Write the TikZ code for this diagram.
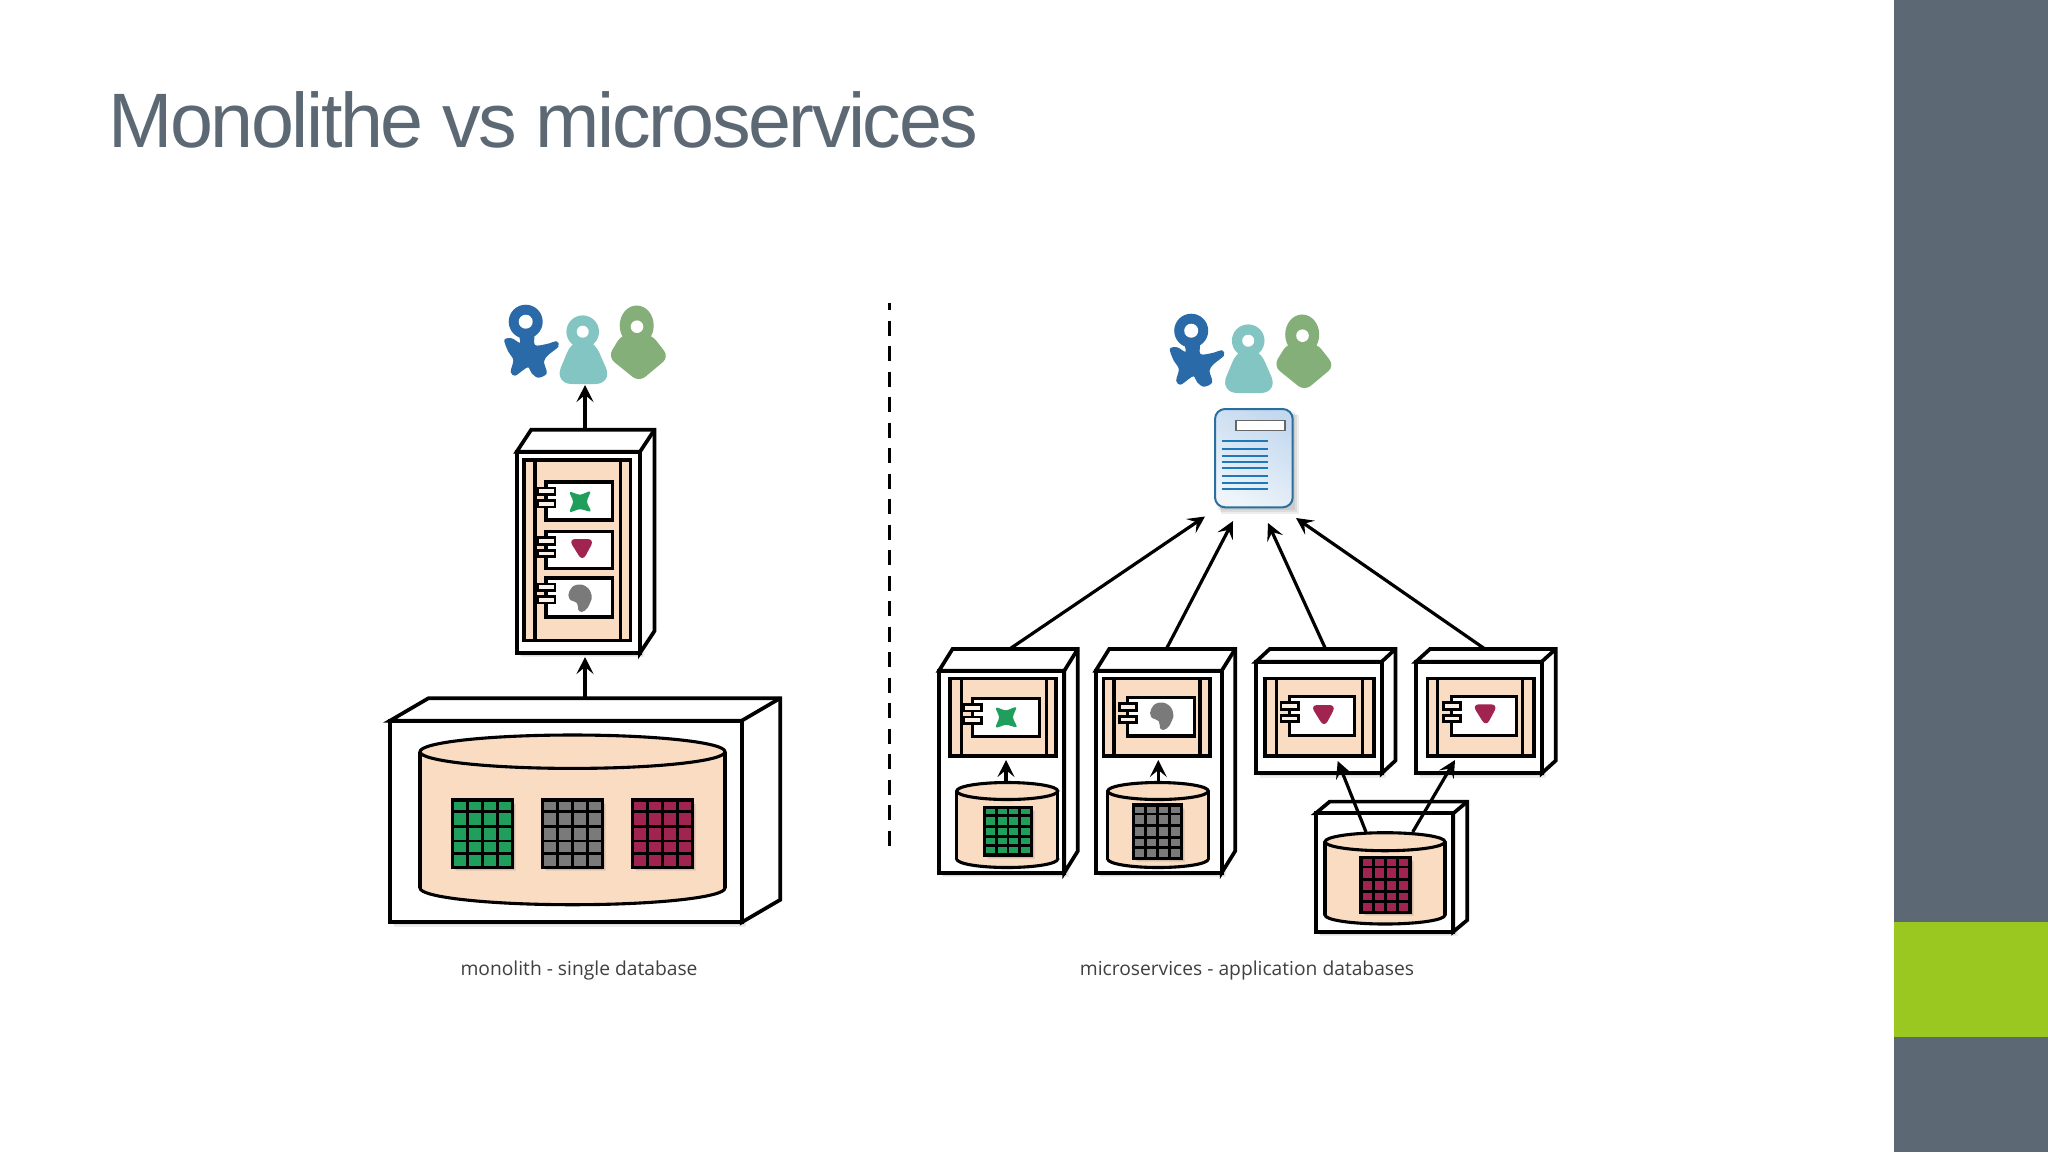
\documentclass[tikz,border=0pt]{standalone}
\usepackage{fontspec}
\setmainfont{Liberation Sans}
\newfontfamily\labfont{Open Sans}
\newfontfamily\titlefont[LetterSpace=-3.2]{Liberation Sans}
\usetikzlibrary{arrows.meta}
\definecolor{slate}{HTML}{5C6873}
\definecolor{lime}{HTML}{9AC820}
\definecolor{peach}{HTML}{FADCC3}
\definecolor{gridgreen}{HTML}{1F9E5C}
\definecolor{gridgrey}{HTML}{7A7A7A}
\definecolor{gridred}{HTML}{A02350}
\definecolor{pblue}{HTML}{2A6AA8}
\definecolor{pteal}{HTML}{83C5C2}
\definecolor{pgreen}{HTML}{85AF78}
\definecolor{doca}{HTML}{C4D9EF}
\definecolor{docb}{HTML}{EEF4FA}
\definecolor{docline}{HTML}{1F78B8}
\definecolor{docedge}{HTML}{2A6F9E}
\tikzset{
  boxline/.style={line width=1.85pt,draw=black,line join=miter},
  thin box/.style={line width=1.55pt,draw=black,line join=miter},
  conn/.style={line width=1.6pt,draw=black,-{Stealth[length=8.5pt,width=8.5pt,inset=3.5pt]}},
  frontface/.style={boxline,fill=white,rectangle,inner sep=0pt,outer sep=0pt},
  softshade/.style={fill=black,fill opacity=0.07,draw=none},
  caption/.style={font=\labfont\fontsize{9.62}{12}\selectfont,text=black!75,anchor=base,inner sep=0pt}
}
% soft shadow: #1-#4 rectangle, #5 offset
\newcommand\softrect[5]{%
  \fill[softshade] (#1+#5,#2+#5) rectangle (#3+#5,#4+#5);
  \fill[softshade] (#1+.6*#5,#2+.6*#5) rectangle (#3+.6*#5,#4+.6*#5);
  \fill[softshade] (#1+1.4*#5,#2+1.4*#5) rectangle (#3+1.4*#5,#4+1.4*#5);
}
% cube: name, x1,y1,x2,y2 of the front face, dx, dy of the depth
\newcommand\cube[7]{%
  \softrect{#2}{#3}{#4}{#5}{3}
  \draw[boxline,fill=white] (#2,#3) -- (#2+#6,#3-#7) -- (#4+#6,#3-#7) -- (#4+#6,#5-#7) -- (#4,#5) -- (#4,#3) -- cycle;
  \draw[boxline] (#4,#3) -- (#4+#6,#3-#7);
  \pgfmathsetmacro\cw{(#4-#2)*0.5}
  \pgfmathsetmacro\ch{(#5-#3)*0.5}
  \node[frontface,minimum width=\cw pt,minimum height=\ch pt] (#1) at ({(#2+#4)/2},{(#3+#5)/2}) {};
}
% peach holder: x1,y1,x2,y2, left bar, right bar
\newcommand\holder[6]{%
  \draw[thin box,fill=peach] (#1,#2) rectangle (#3,#4);
  \draw[thin box] (#5,#2) -- (#5,#4) (#6,#2) -- (#6,#4);
}
% component: x1,y1,x2,y2
\newcommand\comp[5]{%
  \draw[thin box,fill=white] (#1,#2) rectangle (#3,#4);
  \draw[line width=1.3pt,fill=peach!40!white] (#1-8.5,#2+6) rectangle (#1+9,#2+12.5);
  \draw[line width=1.3pt,fill=peach!40!white] (#1-8.5,#2+18.5) rectangle (#1+9,#2+25);
}
\newcommand\iconX[2]{%
  \fill[gridgreen,shift={(#1,#2)}] plot[smooth cycle,tension=.6] coordinates
   {(-10,-9.5) (0,-7) (10,-10) (7,0) (10.5,9.5) (0,7.5) (-10,10) (-7,0)};}
\newcommand\iconV[2]{%
  \fill[gridred,shift={(#1,#2)},rounded corners=3.5] (-13,-10) -- (13,-10) -- (1,12.5) -- cycle;}
\newcommand\iconB[2]{%
  \fill[gridgrey,shift={(#1,#2)}] plot[smooth cycle,tension=.8] coordinates
   {(-10.5,-7) (-4,-13) (6,-11.5) (11.5,-3) (10,5) (5,12.5) (-1,13) (-3,5) (-10.5,1)};}
% cylinder: name, x1, x2, top centre y, ry, side bottom y
\newcommand\cyl[6]{%
  \pgfmathsetmacro\cxa{(#3-#2)/2}
  \draw[thin box,fill=peach] ({(#2+#3)/2},#6) ellipse[x radius=\cxa,y radius=#5];
  \fill[peach] (#2,#4) rectangle (#3,#6);
  \draw[thin box] (#2,#4) -- (#2,#6) (#3,#4) -- (#3,#6);
  \coordinate (#1) at ({(#2+#3)/2},#4);
  \draw[thin box,fill=peach] (#1) ellipse[x radius=\cxa,y radius=#5];
}
% data grid: x1,y1,x2,y2,colour
\newcommand\datagrid[5]{%
  \softrect{#1}{#2}{#3}{#4}{2.5}
  \fill[#5] (#1,#2) rectangle (#3,#4);
  \foreach \f in {.25,.5,.75}
    \draw[line width=1.4pt] ({#1+\f*(#3-#1)},#2) -- ({#1+\f*(#3-#1)},#4);
  \foreach \f in {.17,.39,.61,.8}
    \draw[line width=1.4pt] (#1,{#2+\f*(#4-#2)}) -- (#3,{#2+\f*(#4-#2)});
  \draw[line width=1.6pt] (#1,#2) rectangle (#3,#4);
}
% the three users
\newcommand\users[2]{%
  \begin{scope}[shift={(#1,#2)}]
    \fill[pblue] plot[smooth cycle,tension=.55] coordinates
      {(504.3,340) (511.7,338.3) (520,342.7) (520,334) (533.3,334) (535,345) (546.7,344) (556.7,341.3) (558.3,346.7) (548.3,355) (544,361.7) (546.7,373.3) (538.3,377.7) (531.7,373.3) (528.3,367.3) (523.3,370) (515,375.7) (510.7,371.7) (513.3,360) (508.3,351.7)};
    \fill[pblue] (525.7,321.7) circle[radius=17];
    \fill[white] (525.7,321.7) circle[radius=7];
    \fill[pteal,rounded corners=9] (574,336) -- (554,384) -- (613,384) -- (592,336) -- cycle;
    \fill[pteal] (582.7,331.7) circle[radius=16.3];
    \fill[white] (582.7,331.7) circle[radius=6];
    \fill[pgreen,rounded corners=4] (622,334) -- (608,357) -- (639,382) -- (669,357) -- (651,334) -- cycle;
    \fill[pgreen] (636.7,325.5) ellipse[x radius=17,y radius=20];
    \fill[white] (637,326.7) circle[radius=6.3];
  \end{scope}
}
\begin{document}
\begin{tikzpicture}[x=0.5pt,y=-0.5pt]
\useasboundingbox (0,0) rectangle (2048,1152);
\fill[white] (0,0) rectangle (2048,1152);
\fill[slate] (1894,0) rectangle (2048,1152);
\fill[lime] (1894,921.7) rectangle (2048,1036.7);
\node[anchor=base west,inner sep=0pt,text=slate,font=\titlefont\fontsize{38.6}{48}\selectfont] (title) at (108,147.6) {Monolithe vs microservices};

% ---- monolith ----
\users{0}{0}
\cube{app}{516.7}{451.7}{640}{653}{14.5}{22}
\holder{524}{460}{630.7}{640.7}{535}{620.7}
\comp{546}{482}{612.7}{520}{}
\comp{546}{531.7}{612.7}{568.7}{}
\comp{546}{578}{612.7}{617}{}
\iconX{580}{501.7}
\iconV{581.5}{549}
\iconB{580}{598}

\cube{dbbox}{390}{720.7}{741.7}{922.3}{38.5}{22.5}
\cyl{bigdb}{420}{725}{751.7}{16.7}{888}
\datagrid{452.7}{800}{512.7}{867.3}{gridgreen}
\datagrid{542.7}{800}{602.3}{867.3}{gridgrey}
\datagrid{632.3}{800}{692.3}{867.3}{gridred}

\node[caption] (capleft) at (579,975) {monolith - single database};

% ---- separator ----
\coordinate (septop) at (889.7,303);
\coordinate (sepbot) at (889.7,851);
\draw[line width=1.5pt,dash pattern=on 7.5pt off 5.25pt,dash phase=4pt] (septop) -- (sepbot);

% ---- microservices ----
\users{665.5}{9}
\softrect{1215}{409}{1292.7}{507.3}{4.5}
\node[rectangle,rounded corners=5pt,draw=docedge,line width=1pt,left color=doca,right color=docb,shading angle=-30,inner sep=0pt,outer sep=0pt,minimum width=38.85pt,minimum height=49.15pt] (doc) at (1253.85,458.15) {};
\draw[line width=0.8pt,draw=black!60,fill=white] (1236,420.3) rectangle (1284.7,430.3);
\foreach \yy in {441.3,449.3,455.7,462,468.3,476.3,482.7,489.3}
  \draw[line width=0.9pt,docline] (1221.7,\yy) -- (1267.7,\yy);

% service 1
\cube{svca}{939}{670.7}{1064.3}{872.7}{13.5}{21.7}
\holder{950}{678.3}{1056}{756}{961.7}{1046.7}
\comp{972.3}{698.3}{1039.3}{736.7}{}
\iconX{1006}{717.3}
\cyl{dba}{956.7}{1057.7}{791}{8.5}{859}
\datagrid{984.3}{807.7}{1031.7}{855}{gridgreen}
% service 2
\cube{svcb}{1095.7}{670.7}{1221.7}{872.7}{13.5}{21.7}
\holder{1103.3}{678.3}{1210}{756}{1114}{1200}
\comp{1127.7}{697.7}{1194.3}{736}{}
\iconB{1161.7}{716}
\cyl{dbb}{1107.7}{1208.3}{791}{8.5}{859}
\datagrid{1133.3}{805}{1181.7}{858.3}{gridgrey}
% service 3
\cube{svcc}{1256}{661.7}{1381.7}{773.3}{13.7}{12.7}
\holder{1265}{678.3}{1374}{756}{1276.7}{1362.3}
\comp{1289.3}{696.7}{1354.3}{735.7}{}
\iconV{1323.3}{715}
% service 4
\cube{svcd}{1416}{661.7}{1541.7}{773.3}{14}{12.7}
\holder{1427.3}{678.3}{1534}{756}{1437.7}{1522.7}
\comp{1451.7}{696.7}{1516.7}{735.7}{}
\iconV{1485}{714.3}
% shared database
\cube{dbboxc}{1315.7}{813.3}{1453.3}{931.7}{14}{11.7}
\cyl{dbc}{1325}{1445}{841.7}{9}{915}
\datagrid{1361}{857.7}{1410}{912.7}{gridred}

\node[caption] (capright) at (1247,975) {microservices - application databases};

% ---- connector ends ----
\coordinate (usersa) at (585,385);
\coordinate (apptop) at (585,429.7);
\coordinate (appbot) at (585,657);
\coordinate (dbtop) at (585,698.2);
\coordinate (docha) at (1205,516.5);
\coordinate (dochb) at (1233,521);
\coordinate (dochc) at (1268,523);
\coordinate (dochd) at (1296,518);
\coordinate (tailsa) at (1009.6,649);
\coordinate (tailsb) at (1166.3,649);
\coordinate (tailsc) at (1325.6,649);
\coordinate (tailsd) at (1485,649);
\coordinate (svcahead) at (1006,760);
\coordinate (dbatop) at (1006,782.7);
\coordinate (svcbhead) at (1158.3,760);
\coordinate (dbbtop) at (1158.3,782.7);
\coordinate (svcchead) at (1337.7,761);
\coordinate (dbctopa) at (1366,832);
\coordinate (svcdhead) at (1455,760);
\coordinate (dbctopb) at (1412.7,832);

\draw[conn] (apptop) -- (usersa);
\draw[conn] (dbtop) -- (appbot);
\draw[conn] (tailsa) -- (docha);
\draw[conn] (tailsb) -- (dochb);
\draw[conn] (tailsc) -- (dochc);
\draw[conn] (tailsd) -- (dochd);
\draw[conn] (dbatop) -- (svcahead);
\draw[conn] (dbbtop) -- (svcbhead);
\draw[conn] (dbctopa) -- (svcchead);
\draw[conn] (dbctopb) -- (svcdhead);
\end{tikzpicture}
\end{document}
